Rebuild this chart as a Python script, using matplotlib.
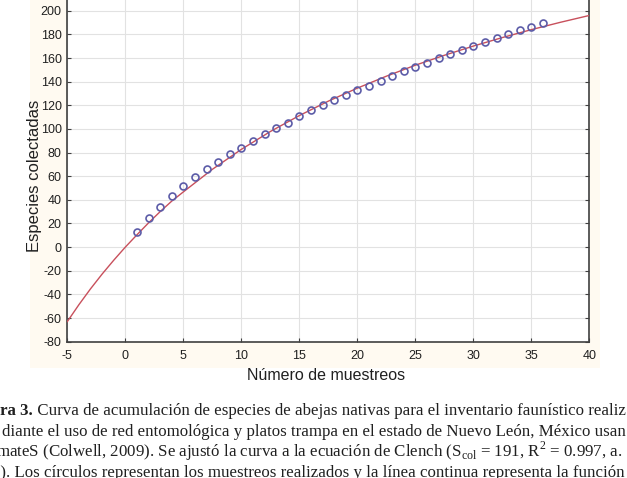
import numpy as np
import matplotlib.pyplot as plt
from matplotlib.patches import Rectangle

# muestreos (circulos)
muestreos = np.arange(1, 37)
especies = [12.8, 24.4, 34.2, 43.3, 51.7, 59.3, 66.1, 72.3, 78.8, 84.1,
            90.0, 95.5, 100.5, 105.3, 110.9, 115.8, 120.0, 124.5, 128.7, 132.7,
            136.6, 140.6, 145.0, 148.8, 152.7, 156.1, 159.8, 163.7, 166.8, 170.5,
            173.8, 177.0, 180.3, 183.7, 186.5, 189.9]

# curva ajustada (Clench)
curva_x = [-5, -4, -3, -2, -1, 0, 1, 2, 3, 4, 5, 7.5, 10, 12.5, 15, 17.5, 20,
           22.5, 25, 27.5, 30, 32.5, 35, 37.5, 40]
curva_y = [-63.0, -48.7, -35.3, -22.8, -11.1, 0.0, 10.4, 20.5, 30.0, 38.9, 46.7,
           65.8, 82.7, 97.8, 111.3, 123.5, 134.5, 144.6, 153.9, 162.3, 170.1,
           177.3, 184.0, 190.2, 196.0]

xticks = [-5, 0, 5, 10, 15, 20, 25, 30, 35, 40]
yticks = list(range(-80, 201, 20))

W, H = 627, 478
plt.rcParams['mathtext.fontset'] = 'custom'
plt.rcParams['mathtext.rm'] = 'Liberation Serif'
plt.rcParams['axes.unicode_minus'] = False

fig = plt.figure(figsize=(W/100, H/100), dpi=100)
fig.patch.set_facecolor('white')
# fondo crema del escaneo
fig.patches.append(Rectangle((30/W, (H-368)/H), 570/W, 368/H, transform=fig.transFigure,
                             fc='#fffaf1', ec='none', zorder=-10))

ax = fig.add_axes([67.3/W, (H-341.7)/H, 522/W, 354.6/H])
ax.set_facecolor('white')
ax.plot(curva_x, curva_y, color='#c8505c', lw=1.0, zorder=3)
ax.plot(muestreos, especies, 'o', mfc='none', mec='#5c5ca8', ms=5.0, mew=1.2, zorder=4)

ax.set_xlim(-5, 40)
ax.set_ylim(-80, 220)
ax.set_xticks(xticks)
ax.set_yticks(yticks)
ax.grid(True, color='#e2e2e2', lw=0.8)
ax.set_axisbelow(True)
for s in ['left', 'bottom', 'right']:
    ax.spines[s].set_color('#404040')
    ax.spines[s].set_linewidth(1.2)
ax.spines['top'].set_visible(False)
ax.tick_params(direction='in', length=3, width=0.8, color='#404040',
               right=True, labelsize=9, pad=4)
ax.tick_params(axis='x', pad=6)
for lab in ax.get_xticklabels() + ax.get_yticklabels():
    lab.set_fontfamily('Liberation Sans')
    lab.set_color('#202020')

fig.text(35/W, (H-176)/H, 'Especies colectadas', rotation=90, ha='center', va='center',
         fontsize=12, family='Liberation Sans', color='#202020')
fig.text(326/W, (H-375)/H, 'Número de muestreos', ha='center', va='center',
         fontsize=11.5, family='Liberation Sans', color='#202020')

# pie de figura (recortado en los bordes, como el escaneo)
cap = dict(fontsize=12.2, family='Liberation Serif', color='#202020', va='baseline', ha='left')
r = fig.canvas.get_renderer()
t = fig.text(0/W, (H-415)/H, 'ra 3.', weight='bold', **cap)
w = t.get_window_extent(renderer=r).width
fig.text(w/W, (H-415)/H, ' Curva de acumulación de especies de abejas nativas para el inventario faunístico realiz', **cap)
fig.text(2/W, (H-436)/H, 'diante el uso de red entomológica y platos trampa en el estado de Nuevo León, México usan', **cap)
fig.text(-4/W, (H-456.5)/H, r'mateS (Colwell, 2009). Se ajustó la curva a la ecuación de Clench (S$_{\mathrm{col}}$ = 191, R$^{2}$ = 0.997, a.', **cap)
fig.text(-8/W, (H-477)/H, '0). Los círculos representan los muestreos realizados y la línea continua representa la función', **cap)

fig.savefig('out.png', dpi=100)
